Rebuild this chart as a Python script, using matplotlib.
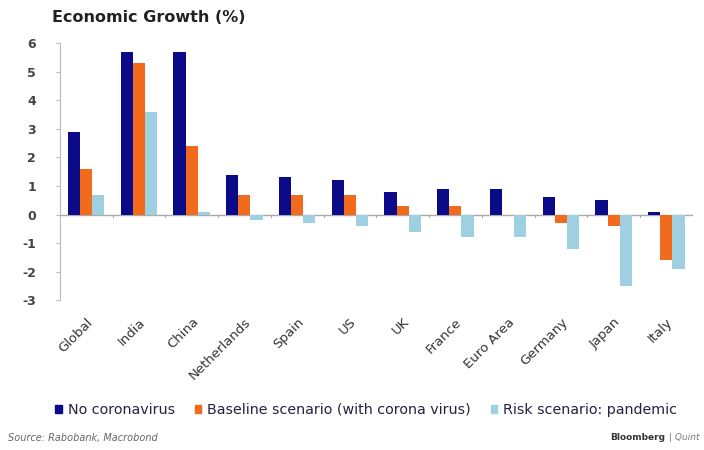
import numpy as np
import matplotlib.pyplot as plt
from matplotlib.patches import Patch

plt.rcParams['axes.unicode_minus'] = False

countries = ['Global', 'India', 'China', 'Netherlands', 'Spain', 'US', 'UK',
             'France', 'Euro Area', 'Germany', 'Japan', 'Italy']
no_corona = [2.9, 5.7, 5.7, 1.4, 1.3, 1.2, 0.8, 0.9, 0.9, 0.6, 0.5, 0.1]
baseline = [1.6, 5.3, 2.4, 0.7, 0.7, 0.7, 0.3, 0.3, 0.0, -0.3, -0.4, -1.6]
pandemic = [0.7, 3.6, 0.1, -0.2, -0.3, -0.4, -0.6, -0.8, -0.8, -1.2, -2.5, -1.9]

series_names = ['No coronavirus', 'Baseline scenario (with corona virus)',
                'Risk scenario: pandemic']
colors = ['#0b0b8a', '#f26a1b', '#9fd0e2']

fig = plt.figure(figsize=(7.04, 4.5), dpi=100)
ax = fig.add_axes([0.085, 0.333, 0.899, 0.571])

x = np.arange(len(countries))
w = 0.23
for i, (vals, c) in enumerate(zip([no_corona, baseline, pandemic], colors)):
    ax.bar(x + (i - 1) * w, vals, width=w, color=c, zorder=2)

ax.set_xlim(-0.5, len(countries) - 0.5)
ax.set_ylim(-3, 6)
ax.set_yticks(range(-3, 7))
ax.tick_params(axis='y', length=3, color='#bbbbbb', labelsize=9,
               labelcolor='#444444', pad=14)
for lbl in ax.get_yticklabels():
    lbl.set_fontweight('bold')

# zero line with small separators between countries
ax.axhline(0, color='#aaaaaa', lw=1, zorder=1)
for b in np.arange(0.5, len(countries) - 0.5, 1):
    ax.plot([b, b], [0, -0.1], color='#aaaaaa', lw=0.8, zorder=1)

ax.set_xticks(x)
ax.set_xticklabels(countries, rotation=45, ha='right', rotation_mode='anchor',
                   fontsize=9.5, color='#333333')
ax.tick_params(axis='x', length=0, pad=11)

for side in ['top', 'right', 'bottom']:
    ax.spines[side].set_visible(False)
ax.spines['left'].set_color('#bbbbbb')

fig.text(0.074, 0.96, 'Economic Growth (%)', fontsize=11.5, fontweight='bold',
         color='#222222', va='center')

handles = [Patch(color=c) for c in colors]
fig.legend(handles, series_names, loc='center', bbox_to_anchor=(0.52, 0.089),
           ncol=3, frameon=False, fontsize=10.3, handlelength=0.45,
           handleheight=0.45, handletextpad=0.4, columnspacing=1.4,
           labelcolor='#222244')

fig.text(0.012, 0.027, 'Source: Rabobank, Macrobond', fontsize=7,
         style='italic', color='#666666', va='center')
fig.text(0.866, 0.027, 'Bloomberg', fontsize=6.5, fontweight='bold',
         color='#333333', va='center')
fig.text(0.95, 0.027, '| Quint', fontsize=6.5, style='italic',
         color='#777777', va='center')

fig.savefig('out.png', dpi=100)
